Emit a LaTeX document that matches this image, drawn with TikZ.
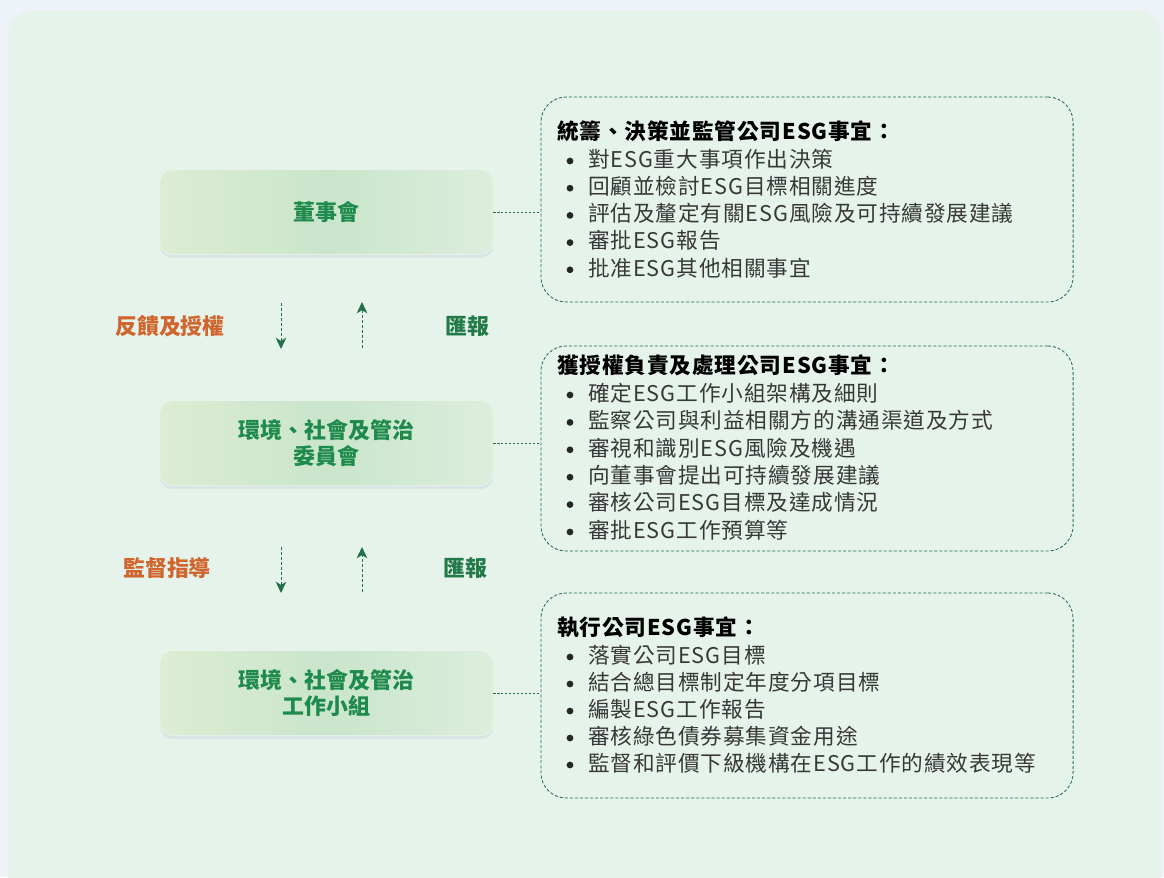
\documentclass[tikz,border=0pt]{standalone}
\usepackage{fontspec}
\setmainfont{Noto Sans CJK TC}
\usetikzlibrary{arrows.meta,positioning,shadows}

\definecolor{pagebg}{HTML}{EDF3F8}
\definecolor{panelbg}{HTML}{E6F3EB}
\definecolor{boxgreenL}{HTML}{DCEDD3}
\definecolor{boxgreenM}{HTML}{C9E5CB}
\definecolor{boxgreenR}{HTML}{DCEEDD}
\definecolor{shadowblue}{HTML}{9DB6C8}
\definecolor{titlegreen}{HTML}{1E8A4C}
\definecolor{reportgreen}{HTML}{217A47}
\definecolor{guideorange}{HTML}{D0652E}
\definecolor{dashgreen}{HTML}{24704A}
\definecolor{listgray}{HTML}{383838}

\newcommand{\organfont}{\fontsize{15.6}{18.5}\selectfont\bfseries}
\newcommand{\headfont}{\fontsize{15.4}{18}\selectfont\bfseries\addfontfeature{LetterSpace=4}}
\newcommand{\itemfont}{\fontsize{15.4}{18}\selectfont\addfontfeature{LetterSpace=4}}
\newcommand{\tagfont}{\fontsize{15.6}{18}\selectfont\bfseries}

\begin{document}
\begin{tikzpicture}[x=0.025cm,y=-0.025cm,
    organ/.style={rounded corners=8.5pt, minimum width=8.325cm, minimum height=2.12cm, inner sep=0pt,
        left color=boxgreenL, right color=boxgreenR, middle color=boxgreenM,
        draw=white!50!boxgreenR, line width=0.4pt,
        drop shadow={shadow xshift=0pt, shadow yshift=-2.5pt, opacity=0.2, fill=shadowblue},
        text=titlegreen, font=\organfont, align=center},
    dutybox/.style={draw=dashgreen, dash pattern=on 2.2pt off 1.4pt, line width=0.6pt,
        rounded corners=18pt, minimum width=13.3cm, minimum height=5.125cm, inner sep=0pt},
    dutyhead/.style={anchor=west, font=\headfont, text=black, text height=0.88em, text depth=0.12em, inner sep=0pt},
    dutyitem/.style={anchor=west, font=\itemfont, text=listgray, text height=0.88em, text depth=0.12em, inner sep=0pt},
    link/.style={dashgreen, dash pattern=on 1.6pt off 1.2pt, line width=0.6pt},
    flow/.style={-{Stealth[length=8pt,width=7.5pt,inset=2.2pt]}, dashgreen, dash pattern=on 2.2pt off 1.4pt, line width=0.65pt},
    tag/.style={font=\tagfont}
]
    % page and panel
    \useasboundingbox (0,0) rectangle (1164,877);
    \fill[pagebg] (0,0) rectangle (1164,877);
    \fill[panelbg, rounded corners=18pt] (8,10) rectangle (1161,900);

    % the three bodies on the left
    \node[organ] (board) at (326.5,212) {董事會};
    \node[organ] (committee) at (326.5,443) {環境、社會及管治\\委員會};
    \node[organ] (workgroup) at (326.5,693) {環境、社會及管治\\工作小組};

    % the duty boxes on the right
    \node[dutybox] (boardduty) at (807,199.5) {};
    \node[dutybox] (committeeduty) at (807,448.5) {};
    \node[dutybox] (workgroupduty) at (807,695.5) {};

    % dotted links from bodies to duties
    \draw[link] (board.east) -- (board.east -| boardduty.west);
    \draw[link] (committee.east) -- (committee.east -| committeeduty.west);
    \draw[link] (workgroup.east) -- (workgroup.east -| workgroupduty.west);

    % free ends of the flow arrows
    \coordinate (down1a) at (281,303);
    \coordinate (down1b) at (281,349);
    \coordinate (up1a) at (362,348);
    \coordinate (up1b) at (362,302);
    \coordinate (down2a) at (281,547);
    \coordinate (down2b) at (281,593);
    \coordinate (up2a) at (362,592);
    \coordinate (up2b) at (362,547);

    \draw[flow] (down1a) -- (down1b);
    \draw[flow] (up1a) -- (up1b);
    \draw[flow] (down2a) -- (down2b);
    \draw[flow] (up2a) -- (up2b);

    % labels of the flows
    \node[tag,text=guideorange] (feedback) at (170,326) {反饋及授權};
    \node[tag,text=reportgreen] (report1) at (467,326) {匯報};
    \node[tag,text=guideorange] (guide) at (167,568) {監督指導};
    \node[tag,text=reportgreen] (report2) at (465,568) {匯報};

    % duties of the board
    \node[dutyhead] (boardhead) at (557,134) {統籌、決策並監管公司ESG事宜：};
    \foreach \txt [count=\i] in {對ESG重大事項作出決策, 回顧並檢討ESG目標相關進度, 評估及釐定有關ESG風險及可持續發展建議, 審批ESG報告, 批准ESG其他相關事宜}{
        \fill[black!85] (570,{161+27.2*(\i-1)}) circle (2.4pt);
        \node[dutyitem] (boarditem\i) at (588,{162+27.2*(\i-1)}) {\txt};
    }

    % duties of the committee
    \node[dutyhead] (committeehead) at (557,368) {獲授權負責及處理公司ESG事宜：};
    \foreach \txt [count=\i] in {確定ESG工作小組架構及細則, 監察公司與利益相關方的溝通渠道及方式, 審視和識別ESG風險及機遇, 向董事會提出可持續發展建議, 審核公司ESG目標及達成情況, 審批ESG工作預算等}{
        \fill[black!85] (570,{395+27.4*(\i-1)}) circle (2.4pt);
        \node[dutyitem] (committeeitem\i) at (588,{396+27.4*(\i-1)}) {\txt};
    }

    % duties of the working group
    \node[dutyhead] (workgrouphead) at (557,630) {執行公司ESG事宜：};
    \foreach \txt [count=\i] in {落實公司ESG目標, 結合總目標制定年度分項目標, 編製ESG工作報告, 審核綠色債券募集資金用途, 監督和評價下級機構在ESG工作的績效表現等}{
        \fill[black!85] (570,{657+27*(\i-1)}) circle (2.4pt);
        \node[dutyitem] (workgroupitem\i) at (588,{658+27*(\i-1)}) {\txt};
    }
\end{tikzpicture}
\end{document}
